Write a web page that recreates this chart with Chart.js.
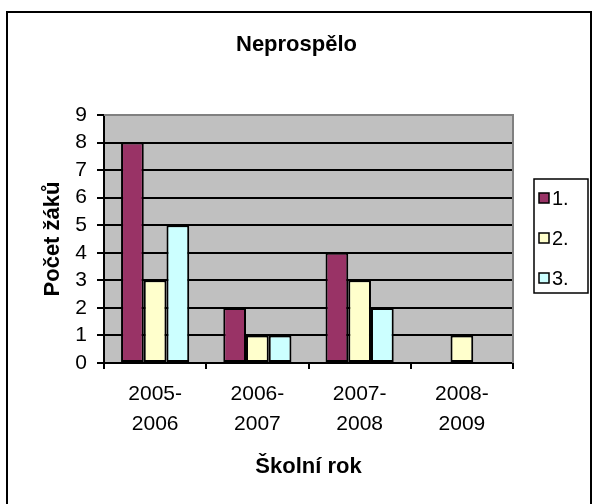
<!DOCTYPE html>
<html>
<head>
<meta charset="utf-8">
<script src="https://cdn.jsdelivr.net/npm/chart.js@4.4.0/dist/chart.umd.min.js"></script>
<style>
  body { margin: 0; background: #fff; }
  #chart { display: block; }
</style>
</head>
<body>
<canvas id="chart" width="593" height="504"></canvas>
<script>
let categories = [['2005-', '2006'], ['2006-', '2007'], ['2007-', '2008'], ['2008-', '2009']];
let seriesNames = ['1.', '2.', '3.'];
let series1 = [8, 2, 4, 0];
let series2 = [3, 1, 3, 1];
let series3 = [5, 1, 2, 0];
let yTicks = [0, 1, 2, 3, 4, 5, 6, 7, 8, 9];

let colors = ['#993366', '#FFFFCC', '#CCFFFF'];
let fontFamily = '"Liberation Sans", Arial, sans-serif';

// gray plot background, plot frame, outer frame and boxed legend
let excelLook = {
    id: 'excelLook',
    beforeDatasetsDraw(chart) {
        let ctx = chart.ctx;
        let a = chart.chartArea;
        ctx.save();
        ctx.globalCompositeOperation = 'destination-over';
        ctx.fillStyle = '#C0C0C0';
        ctx.fillRect(a.left, a.top, a.right - a.left, a.bottom - a.top);
        ctx.restore();
    },
    afterDraw(chart) {
        let ctx = chart.ctx;
        let a = chart.chartArea;
        ctx.save();
        // top and right plot border
        ctx.strokeStyle = '#808080';
        ctx.lineWidth = 2;
        ctx.beginPath();
        ctx.moveTo(a.left, a.top);
        ctx.lineTo(a.right, a.top);
        ctx.lineTo(a.right, a.bottom);
        ctx.stroke();

        // outer frame
        ctx.strokeStyle = '#000';
        ctx.lineWidth = 2;
        ctx.strokeRect(7, 12, 584, 520);

        // legend
        let lx = 534, ly = 179, lw = 54, lh = 114;
        ctx.lineWidth = 1.5;
        ctx.strokeRect(lx, ly, lw, lh);
        ctx.font = '20px ' + fontFamily;
        ctx.textBaseline = 'middle';
        ctx.textAlign = 'left';
        chart.data.datasets.forEach(function (ds, i) {
            let cy = 198 + i * 40;
            ctx.fillStyle = ds.backgroundColor;
            ctx.fillRect(539, cy - 5, 10, 10);
            ctx.lineWidth = 1.5;
            ctx.strokeStyle = '#000';
            ctx.strokeRect(539, cy - 5, 10, 10);
            ctx.fillStyle = '#000';
            ctx.fillText(ds.label, 552, cy + 1);
        });
        ctx.restore();
    }
};

let datasets = [series1, series2, series3].map(function (values, i) {
    return {
        label: seriesNames[i],
        data: values,
        backgroundColor: colors[i],
        borderColor: '#000',
        borderWidth: 2,
        borderSkipped: false,
        categoryPercentage: 3 / 4.5,
        barPercentage: 1
    };
});

let myBarChart = new Chart(document.getElementById('chart'), {
    type: 'bar',
    data: {
        labels: categories,
        datasets: datasets
    },
    options: {
        responsive: false,
        animation: false,
        layout: { padding: 0 },
        plugins: {
            legend: { display: false },
            tooltip: { enabled: false },
            title: {
                display: true,
                text: 'Neprospělo',
                color: '#000',
                font: { family: fontFamily, size: 22, weight: 'bold', lineHeight: 1.2 },
                padding: { top: 32, bottom: 56.6 }
            }
        },
        scales: {
            x: {
                afterFit(scale) { scale.height = 141; },
                grid: {
                    offset: true,
                    drawOnChartArea: false,
                    drawTicks: true,
                    tickLength: 6,
                    color: '#000',
                    lineWidth: 2
                },
                border: { color: '#000', width: 2 },
                ticks: {
                    color: '#000',
                    padding: 10,
                    maxRotation: 0,
                    autoSkip: false,
                    font: { family: fontFamily, size: 21, lineHeight: 1.43 }
                },
                title: {
                    display: true,
                    text: 'Školní rok',
                    color: '#000',
                    font: { family: fontFamily, size: 22, weight: 'bold', lineHeight: 1.2 },
                    padding: { top: 0, bottom: 24 }
                }
            },
            y: {
                min: 0,
                max: 9,
                afterFit(scale) { scale.width = 104; },
                afterBuildTicks(scale) {
                    scale.ticks = yTicks.map(function (v) { return { value: v }; });
                },
                grid: {
                    color: '#000',
                    lineWidth: 2,
                    drawTicks: true,
                    tickLength: 7
                },
                border: { color: '#000', width: 2 },
                ticks: {
                    color: '#000',
                    padding: 10,
                    autoSkip: false,
                    font: { family: fontFamily, size: 21 }
                },
                title: {
                    display: true,
                    text: 'Počet žáků',
                    color: '#000',
                    font: { family: fontFamily, size: 22, weight: 'bold', lineHeight: 1.2 },
                    padding: { top: 40, bottom: 0 }
                }
            },
            // empty right-hand box that keeps room for the legend
            legendSpace: {
                type: 'linear',
                position: 'right',
                afterFit(scale) { scale.width = 80; },
                grid: { display: false },
                border: { display: false },
                ticks: { display: false }
            }
        }
    },
    plugins: [excelLook]
});
</script>
</body>
</html>
